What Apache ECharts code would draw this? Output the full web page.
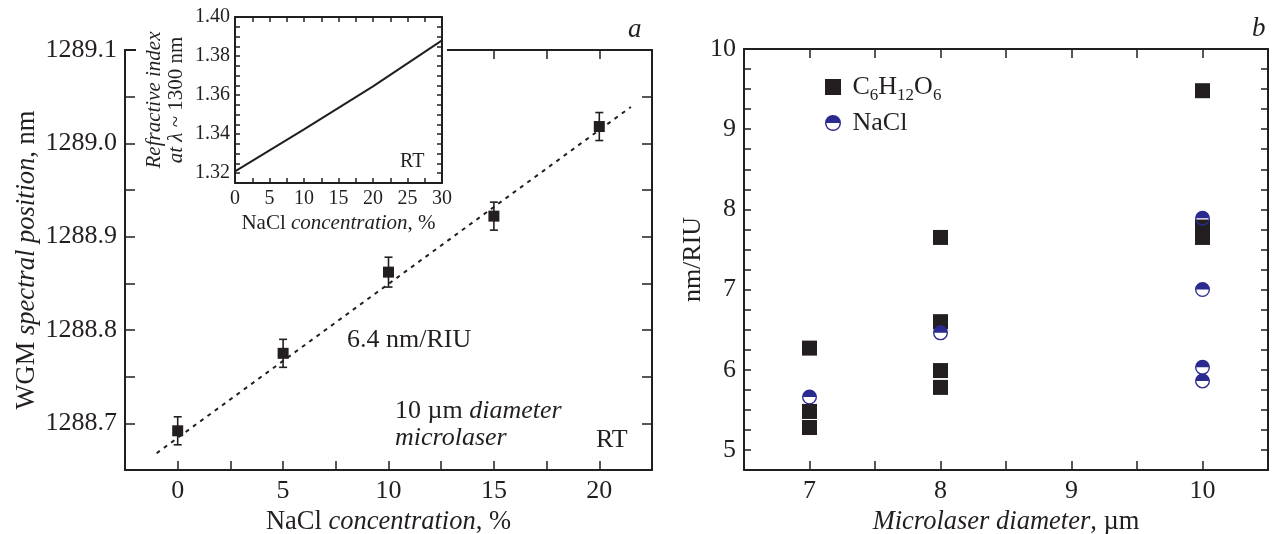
<!DOCTYPE html>
<html>
<head>
<meta charset="utf-8">
<script src="https://cdn.jsdelivr.net/npm/echarts@6/dist/echarts.min.js"></script>
<style>
  html, body { margin: 0; padding: 0; background: #fff; }
  #chart { width: 1275px; height: 534px; }
</style>
</head>
<body>
<div id="chart"></div>
<script>
// panel a: WGM position vs NaCl concentration
const concentration = [0, 5, 10, 15, 20];
const wgmPosition = [1288.692, 1288.775, 1288.862, 1288.922, 1289.018];
const wgmError = [0.015, 0.015, 0.016, 0.015, 0.015];
const fitX = [-1, 21.5];
const fitY = [1288.668, 1289.039];

// inset: refractive index vs NaCl concentration
const insetConc = [0, 10, 20, 30];
const insetIndex = [1.321, 1.3425, 1.3645, 1.388];

// panel b: sensitivity vs microlaser diameter
const glucoseDiam = [7, 7, 7, 8, 8, 8, 8, 10, 10, 10];
const glucoseSens = [6.27, 5.48, 5.28, 7.65, 6.6, 5.99, 5.78, 9.48, 7.78, 7.65];
const naclDiam = [7, 8, 10, 10, 10, 10];
const naclSens = [5.66, 6.46, 7.89, 7.0, 6.03, 5.86];

const FONT = 'Liberation Serif';
const INK = '#231f20';
const BLUE = '#2b2a8f';
// half filled circle: outer disk minus the lower inner half
const HALF_DOT = 'path://M0,10A10,10,0,1,1,20,10A10,10,0,1,1,0,10ZM1.8,10A8.2,8.2,0,0,0,18.2,10Z';

function isMult(v, step) {
    let r = v / step;
    return Math.abs(r - Math.round(r)) < 1e-6;
}

function rich(size) {
    return {
        r: { fontFamily: FONT, fontSize: size, color: INK },
        i: { fontFamily: FONT, fontSize: size, color: INK, fontStyle: 'italic' }
    };
}

function axisBase(grid, min, max, interval, position, tickLen, extra) {
    let ax = {
        type: 'value',
        gridIndex: grid,
        position: position,
        min: min,
        max: max,
        interval: interval,
        axisLine: { show: true, onZero: false, lineStyle: { color: INK, width: 2 } },
        axisTick: { show: true, inside: true, length: tickLen, lineStyle: { color: INK, width: 1.5 } },
        axisLabel: { show: false },
        splitLine: { show: false }
    };
    return Object.assign(ax, extra || {});
}

let chart = echarts.init(document.getElementById('chart'));

let option = {
    animation: false,
    backgroundColor: '#fff',
    grid: [
        { left: 125, top: 50, width: 527, height: 420, outerBoundsMode: 'none' },
        { left: 235, top: 17, width: 207, height: 166, outerBoundsMode: 'none' },
        { left: 744, top: 49, width: 524, height: 421, outerBoundsMode: 'none' }
    ],
    xAxis: [
        axisBase(0, -2.5, 22.5, 2.5, 'bottom', 9, {
            axisLabel: {
                show: true, margin: 8, fontFamily: FONT, fontSize: 26, color: INK,
                formatter: v => isMult(v, 5) ? String(Math.round(v)) : ''
            },
            name: '{r|NaCl }{i|concentration}{r|, %}',
            nameLocation: 'middle', nameGap: 33,
            nameTextStyle: { rich: rich(26.5) }
        }),
        axisBase(0, -2.5, 22.5, 2.5, 'top', 9),
        axisBase(1, 0, 30, 2.5, 'bottom', 5, {
            z: 5,
            axisLabel: {
                show: true, margin: 6, fontFamily: FONT, fontSize: 20, color: INK,
                formatter: v => isMult(v, 5) ? String(Math.round(v)) : ''
            },
            name: '{r|NaCl }{i|concentration}{r|, %}',
            nameLocation: 'middle', nameGap: 30,
            nameTextStyle: { rich: rich(21) }
        }),
        axisBase(1, 0, 30, 2.5, 'top', 5, { z: 5 }),
        axisBase(2, 6.5, 10.5, 0.5, 'bottom', 9, {
            axisLabel: {
                show: true, margin: 8, fontFamily: FONT, fontSize: 26, color: INK,
                formatter: v => isMult(v, 1) ? String(Math.round(v)) : ''
            },
            name: '{i|Microlaser diameter}{r|, µm}',
            nameLocation: 'middle', nameGap: 33,
            nameTextStyle: { rich: rich(26.5) }
        }),
        axisBase(2, 6.5, 10.5, 0.5, 'top', 9)
    ],
    yAxis: [
        axisBase(0, 1288.65, 1289.1, 0.05, 'left', 10, {
            axisLabel: {
                show: true, margin: 8, fontFamily: FONT, fontSize: 26, color: INK,
                formatter: v => isMult(v, 0.1) ? v.toFixed(1) : ''
            },
            name: '{r|WGM }{i|spectral position}{r|, nm}',
            nameLocation: 'middle', nameGap: 84,
            nameTextStyle: { rich: rich(26.5) }
        }),
        axisBase(0, 1288.65, 1289.1, 0.05, 'right', 10),
        axisBase(1, 1.315, 1.40, 0.005, 'left', 5, {
            z: 5,
            axisLabel: {
                show: true, margin: 5, fontFamily: FONT, fontSize: 20, color: INK,
                formatter: v => isMult(v, 0.02) ? v.toFixed(2) : ''
            },
            name: '{i|Refractive index}\n{i|at λ ~ }{r|1300 nm}',
            nameLocation: 'middle', nameGap: 48,
            nameTextStyle: { lineHeight: 22, rich: rich(21) }
        }),
        axisBase(1, 1.315, 1.40, 0.005, 'right', 5, { z: 5 }),
        axisBase(2, 4.75, 10, 0.25, 'left', 7, {
            axisLabel: {
                show: true, margin: 8, fontFamily: FONT, fontSize: 26, color: INK,
                formatter: v => isMult(v, 1) ? String(Math.round(v)) : ''
            },
            name: 'nm/RIU',
            nameLocation: 'middle', nameGap: 37,
            nameTextStyle: { fontFamily: FONT, fontSize: 26, color: INK }
        }),
        axisBase(2, 4.75, 10, 0.25, 'right', 7)
    ],
    legend: [
        {
            data: [{ name: 'C6H12O6', icon: 'rect' }],
            left: 825, top: 74, padding: 0, itemWidth: 16, itemHeight: 16,
            formatter: () => '{n| C}{s|6}{n|H}{s|12}{n|O}{s|6}',
            textStyle: {
                rich: {
                    n: { fontFamily: FONT, fontSize: 26, color: INK, lineHeight: 34, verticalAlign: 'middle' },
                    s: { fontFamily: FONT, fontSize: 17, color: INK, lineHeight: 17, verticalAlign: 'bottom' }
                }
            }
        },
        {
            data: [{ name: 'NaCl', icon: HALF_DOT }],
            left: 825, top: 110, padding: 0, itemWidth: 16, itemHeight: 16,
            formatter: () => '{n| NaCl}',
            textStyle: {
                rich: {
                    n: { fontFamily: FONT, fontSize: 26, color: INK, lineHeight: 26 }
                }
            }
        }
    ],
    graphic: [
        // inset box hides the main frame behind it
        { type: 'rect', z: 1, shape: { x: 136, y: 0, width: 311, height: 62 }, style: { fill: '#fff' } },
        {
            type: 'text', x: 347, y: 340, z: 10,
            style: { text: '6.4 nm/RIU', fontFamily: FONT, fontSize: 26, fill: INK, verticalAlign: 'middle' }
        },
        {
            type: 'text', x: 395, y: 398, z: 10,
            style: {
                text: '{r|10 µm }{i|diameter}\n{i|microlaser}', verticalAlign: 'top',
                rich: {
                    r: { fontFamily: FONT, fontSize: 26, fill: INK, lineHeight: 27 },
                    i: { fontFamily: FONT, fontSize: 26, fill: INK, fontStyle: 'italic', lineHeight: 27 }
                }
            }
        },
        {
            type: 'text', x: 596, y: 440, z: 10,
            style: { text: 'RT', fontFamily: FONT, fontSize: 26, fill: INK, verticalAlign: 'middle' }
        },
        {
            type: 'text', x: 400, y: 162, z: 10,
            style: { text: 'RT', fontFamily: FONT, fontSize: 20, fill: INK, verticalAlign: 'middle' }
        },
        {
            type: 'text', x: 628, y: 30, z: 10,
            style: { text: 'a', fontFamily: FONT, fontSize: 27, fontStyle: 'italic', fill: INK, verticalAlign: 'middle' }
        },
        {
            type: 'text', x: 1252, y: 29, z: 10,
            style: { text: 'b', fontFamily: FONT, fontSize: 27, fontStyle: 'italic', fill: INK, verticalAlign: 'middle' }
        }
    ],
    series: [
        {
            name: 'fit',
            type: 'line',
            xAxisIndex: 0, yAxisIndex: 0,
            data: fitX.map((x, i) => [x, fitY[i]]),
            showSymbol: false,
            lineStyle: { color: INK, width: 2, type: [4, 5] },
            z: 2
        },
        {
            name: 'error',
            type: 'custom',
            xAxisIndex: 0, yAxisIndex: 0,
            data: concentration.map((c, i) => [c, wgmPosition[i], wgmError[i]]),
            encode: { x: 0, y: 1 },
            renderItem: function (params, api) {
                let x = api.value(0), y = api.value(1), e = api.value(2);
                let top = api.coord([x, y + e]);
                let bot = api.coord([x, y - e]);
                let cap = 4;
                let st = { stroke: INK, lineWidth: 1.6 };
                return {
                    type: 'group',
                    children: [
                        { type: 'line', shape: { x1: top[0], y1: top[1], x2: bot[0], y2: bot[1] }, style: st },
                        { type: 'line', shape: { x1: top[0] - cap, y1: top[1], x2: top[0] + cap, y2: top[1] }, style: st },
                        { type: 'line', shape: { x1: bot[0] - cap, y1: bot[1], x2: bot[0] + cap, y2: bot[1] }, style: st }
                    ]
                };
            },
            z: 3
        },
        {
            name: 'wgm',
            type: 'scatter',
            xAxisIndex: 0, yAxisIndex: 0,
            data: concentration.map((c, i) => [c, wgmPosition[i]]),
            symbol: 'rect', symbolSize: 11,
            itemStyle: { color: INK, opacity: 1 },
            z: 4
        },
        {
            name: 'index',
            type: 'line',
            xAxisIndex: 2, yAxisIndex: 2,
            data: insetConc.map((c, i) => [c, insetIndex[i]]),
            showSymbol: false,
            lineStyle: { color: INK, width: 2 },
            z: 6
        },
        {
            name: 'C6H12O6',
            type: 'scatter',
            xAxisIndex: 4, yAxisIndex: 4,
            data: glucoseDiam.map((d, i) => [d, glucoseSens[i]]),
            symbol: 'rect', symbolSize: 15,
            itemStyle: { color: INK, opacity: 1 },
            z: 3
        },
        {
            name: 'NaCl',
            type: 'scatter',
            xAxisIndex: 4, yAxisIndex: 4,
            data: naclDiam.map((d, i) => [d, naclSens[i]]),
            symbol: HALF_DOT, symbolSize: 15,
            itemStyle: { color: BLUE, opacity: 1 },
            z: 4
        }
    ]
};

chart.setOption(option);
window.addEventListener('resize', function () {
    chart.resize();
});
</script>
</body>
</html>
